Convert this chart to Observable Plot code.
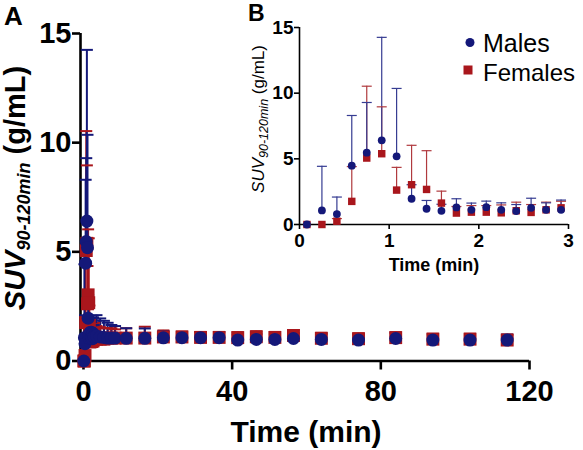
<!DOCTYPE html>
<html><head><meta charset="utf-8">
<script src="https://cdn.jsdelivr.net/npm/d3@7"></script>
<script src="https://cdn.jsdelivr.net/npm/@observablehq/plot@0.6"></script>
<style>
body{margin:0;background:#fff;}
#wrap{position:relative;width:583px;height:450px;font-family:"Liberation Sans",Arial,sans-serif;}
#wrap svg{position:absolute;overflow:visible;}
</style></head><body><div id="wrap"></div>
<script>
// Frame mid-times (min)
const times = [0.083,0.25,0.417,0.583,0.75,0.917,1.083,1.25,1.417,1.583,1.75,1.917,2.083,2.25,2.417,2.583,2.75,2.917,
  3.5,4.5,5.5,6.5,7.5,8.5,11.5,16.5,21.5,26.5,31.5,36.5,41.5,46.5,51.5,56.5,64,74,84,94,104,114];
const maleMean = [0,1.07,0.79,4.48,5.47,6.41,5.19,1.96,1.2,1.04,1.3,1.12,1.32,1.12,1.02,1.27,1.12,1.12,
  1.15,1.1,1.08,1.05,1.05,1.05,1.04,1.04,1.06,1.07,1.07,1.07,0.96,0.99,0.99,1.03,0.99,0.96,1.03,0.96,0.96,0.96];
const maleSD = [0,3.36,1.3,3.82,3.82,7.84,5.17,1.07,0.63,0.5,0.66,0.51,0.46,0.53,0.5,0.73,0.53,0.74,
  0.95,0.85,0.76,0.7,0.6,0.55,0.46,0.45,0.3,0.25,0.25,0.25,0.25,0.25,0.25,0.25,0.25,0.25,0.25,0.25,0.25,0.25];
const femaleMean = [0,0,0.25,1.76,5.06,5.39,2.62,3.03,2.67,1.63,0.87,0.94,0.94,0.89,1.05,0.92,1.12,1.27,
  1.0,1.0,1.0,1.05,1.05,1.05,1.05,1.05,1.1,1.1,1.08,1.08,1.07,1.11,1.08,1.17,1.04,1.02,1.07,1.0,1.0,0.96];
const femaleSD = [0,0,0.2,2.65,5.47,3.57,1.73,3.0,2.95,0.91,0.5,0.5,0.5,0.6,0.65,0.6,0.58,0.5,
  0.6,0.55,0.5,0.45,0.45,0.4,0.45,0.52,0.3,0.25,0.25,0.25,0.25,0.25,0.25,0.25,0.25,0.25,0.25,0.25,0.25,0.25];
const xTicksMain = [0,40,80,120];
const yTicksMain = [0,5,10,15];
const xTicksInset = [0,1,2,3];
const yTicksInset = [0,5,10,15];
const seriesNames = ["Males","Females"];

const rows = times.map((t,i)=>({t, mM:maleMean[i], mSD:maleSD[i], mHi:maleMean[i]+maleSD[i],
  fM:femaleMean[i], fSD:femaleSD[i], fHi:femaleMean[i]+femaleSD[i]}));
const insetRows = rows.filter(d=>d.t<=3);

const NAVY = "#141879", RED = "#a9161c";
const NAVY_BAR = "#363c92", RED_BAR = "#b03a3e";
const FONT = "Liberation Sans, Arial, Helvetica, sans-serif";
const intFmt = d3.format("d");
const cap = {draw(ctx, size){ const w = Math.sqrt(size/Math.PI); ctx.moveTo(-w,0); ctx.lineTo(w,0); }};

function dataMarks(data, o){
  return [
    Plot.ruleX(data.filter(d=>d.fSD>0), {x:"t", y1:"fM", y2:"fHi", stroke:o.redBar, strokeWidth:o.barW}),
    Plot.ruleX(data.filter(d=>d.mSD>0), {x:"t", y1:"mM", y2:"mHi", stroke:o.navyBar, strokeWidth:o.barW}),
    Plot.dot(data.filter(d=>d.fSD>0), {x:"t", y:"fHi", symbol:cap, r:o.capR, stroke:o.redBar, strokeWidth:o.barW, fill:"none"}),
    Plot.dot(data.filter(d=>d.mSD>0), {x:"t", y:"mHi", symbol:cap, r:o.capR, stroke:o.navyBar, strokeWidth:o.barW, fill:"none"}),
    Plot.dot(data, {x:"t", y:"fM", symbol:"square", r:o.rS, fill:RED}),
    Plot.dot(data, {x:"t", y:"mM", symbol:"circle", r:o.rC, fill:NAVY})
  ];
}
function addText(sel, x, y, txt, size, opts={}){
  return sel.append("text").attr("x",x).attr("y",y).attr("text-anchor",opts.anchor||"start")
    .style("font-family",FONT).style("font-weight",opts.weight||"normal").style("font-size",size+"px").text(txt);
}

const wrap = d3.select("#wrap");
const xMinMain = -0.8;
const main = Plot.plot({
  width:583, height:450, marginLeft:80, marginRight:54, marginTop:33, marginBottom:89.5,
  x:{domain:[xMinMain,120]}, y:{domain:[0,15]},
  style:{fontFamily:FONT, background:"none", overflow:"visible"},
  marks:[
    Plot.ruleY([0], {stroke:"#000", strokeWidth:2.6}),
    Plot.ruleX([xMinMain], {stroke:"#000", strokeWidth:2.6}),
    Plot.axisX({ticks:xTicksMain, tickFormat:intFmt, tickSize:9, tickPadding:10, fontSize:29, fontWeight:"bold", strokeWidth:2.6, label:null}),
    Plot.axisY({ticks:yTicksMain, tickFormat:intFmt, tickSize:8, tickPadding:1, fontSize:29, fontWeight:"bold", strokeWidth:2.6, label:null}),
    ...dataMarks(rows, {redBar:RED, navyBar:NAVY, barW:2, capR:6, rS:7.3, rC:6.5})
  ]
});
main.style.left="0px"; main.style.top="0px";
wrap.node().appendChild(main);
const sm = d3.select(main);
addText(sm, 4, 25, "A", 26, {weight:"bold"});
addText(sm, 306, 442, "Time (min)", 30, {weight:"bold", anchor:"middle"});
const yl = sm.append("text").attr("transform","translate(25,188) rotate(-90)").attr("text-anchor","middle")
  .style("font-family",FONT).style("font-weight","bold").style("font-size","29px");
yl.append("tspan").style("font-style","italic").text("SUV");
yl.append("tspan").style("font-style","italic").style("font-size","18px").attr("dy",5).text("90-120min");
yl.append("tspan").attr("dy",-5).text(" (g/mL)");

const inset = Plot.plot({
  width:343, height:285, marginLeft:59, marginRight:15, marginTop:27, marginBottom:61,
  x:{domain:[0,3]}, y:{domain:[0,15]},
  style:{fontFamily:FONT, background:"none", overflow:"visible"},
  marks:[
    Plot.ruleY([0], {stroke:"#000", strokeWidth:1.6}),
    Plot.ruleX([0], {stroke:"#000", strokeWidth:1.6}),
    Plot.axisX({ticks:xTicksInset, tickFormat:intFmt, tickSize:5, tickPadding:4, fontSize:19, fontWeight:"bold", strokeWidth:1.6, label:null}),
    Plot.axisY({ticks:yTicksInset, tickFormat:intFmt, tickSize:5, tickPadding:1, fontSize:19, fontWeight:"bold", strokeWidth:1.6, label:null}),
    ...dataMarks(insetRows, {redBar:RED_BAR, navyBar:NAVY_BAR, barW:1.2, capR:5, rS:4.2, rC:3.9})
  ]
});
inset.style.left="240px"; inset.style.top="0px";
wrap.node().appendChild(inset);
const si = d3.select(inset);
addText(si, 8, 21, "B", 23, {weight:"bold"});
addText(si, 194, 270.5, "Time (min)", 18, {weight:"bold", anchor:"middle"});
const yi = si.append("text").attr("transform","translate(24,119) rotate(-90)").attr("text-anchor","middle")
  .style("font-family",FONT).style("font-size","17px");
yi.append("tspan").style("font-style","italic").text("SUV");
yi.append("tspan").style("font-style","italic").style("font-size","12.5px").attr("dy",3.5).text("90-120min");
yi.append("tspan").attr("dy",-3.5).text(" (g/mL)");
// legend
si.append("circle").attr("cx",230).attr("cy",42.5).attr("r",4.5).attr("fill",NAVY);
addText(si, 243, 51.5, seriesNames[0], 25);
si.append("rect").attr("x",223.5).attr("y",65.5).attr("width",9).attr("height",9).attr("fill",RED);
addText(si, 243, 81, seriesNames[1], 24);
</script></body></html>
